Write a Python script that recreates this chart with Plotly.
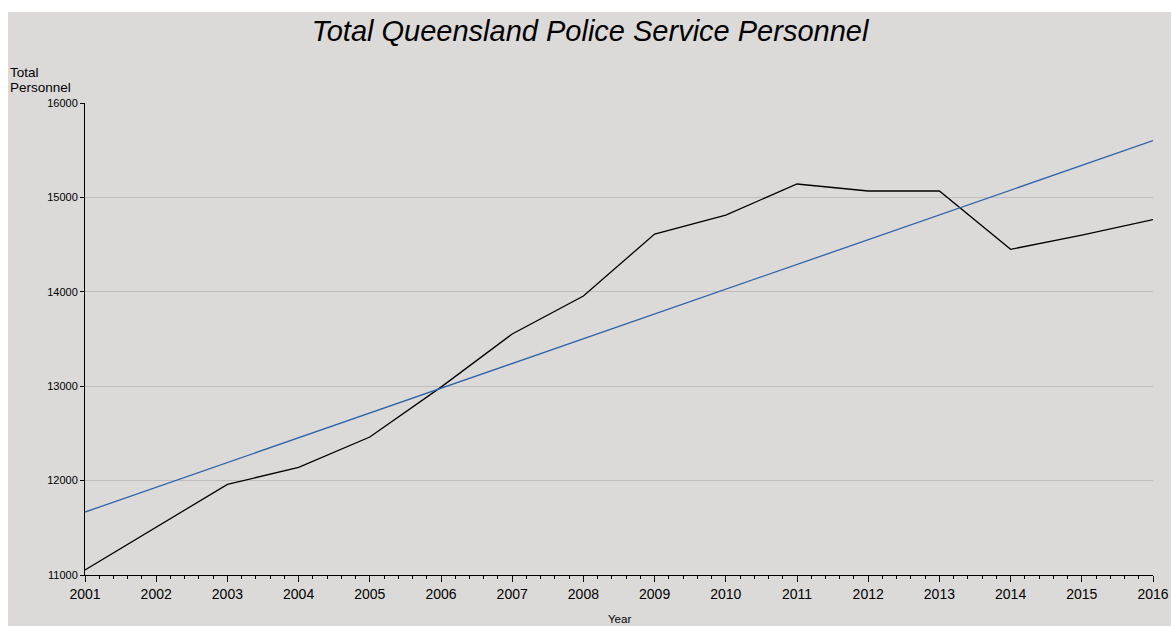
import plotly.graph_objects as go

years = list(range(2001, 2017))
personnel = [11053, 11508, 11960, 12140, 12462, 12990, 13553, 13955,
             14612, 14813, 15142, 15068, 15068, 14450, 14600, 14764]
trend_years = [2001, 2016]
trend_values = [11667, 15601]
y_ticks = [11000, 12000, 13000, 14000, 15000, 16000]

bg = "#dcdad9"
font = "Liberation Sans, Arial, sans-serif"

W, H = 1163, 618
ML, MR, MT, MB = 77, 18, 95, 51
PW = W - ML - MR
PH = H - MT - MB


def px_x(x):
    return (x - ML) / PW


def px_y(y):
    return (H - MB - y) / PH


fig = go.Figure()
fig.add_trace(go.Scatter(x=years, y=personnel, mode="lines",
                         line=dict(color="#000000", width=1.3), showlegend=False))
fig.add_trace(go.Scatter(x=trend_years, y=trend_values, mode="lines",
                         line=dict(color="#2d62a8", width=1.3), showlegend=False))

fig.update_layout(
    width=W, height=H,
    paper_bgcolor=bg, plot_bgcolor=bg,
    margin=dict(l=ML, r=MR, t=MT, b=MB, autoexpand=False),
    font=dict(family=font, color="#000000"),
    title=dict(text="<i>Total Queensland Police Service Personnel</i>",
               x=px_x(582), xanchor="center", xref="paper", y=1 - 23 / H, yanchor="middle",
               font=dict(size=29, family=font)),
    xaxis=dict(range=[2001, 2016], tickvals=years, ticktext=[str(y) for y in years],
               automargin=False,
               showgrid=False, zeroline=False, showline=True, linecolor="#000000",
               linewidth=1, ticks="outside", ticklen=6, tickcolor="#000000",
               tickfont=dict(size=14),
               minor=dict(dtick=0.2, tick0=2001, ticks="outside", ticklen=3,
                          tickcolor="#000000", showgrid=False)),
    yaxis=dict(range=[11000, 16000], tickvals=y_ticks, ticktext=[str(v) for v in y_ticks],
               automargin=False,
               showgrid=True, gridcolor="#bfbebd", gridwidth=1, zeroline=False,
               showline=True, linecolor="#000000", linewidth=1,
               ticks="outside", ticklen=4, tickcolor="#000000",
               tickfont=dict(size=11)),
    annotations=[
        dict(text="Total", x=px_x(0), y=px_y(64), xref="paper", yref="paper",
             showarrow=False, align="left", xanchor="left", yanchor="middle",
             font=dict(size=13.5)),
        dict(text="Personnel", x=px_x(0), y=px_y(79.5), xref="paper", yref="paper",
             showarrow=False, align="left", xanchor="left", yanchor="middle",
             font=dict(size=13.5)),
        dict(text="Year", x=0.5, y=px_y(611), xref="paper", yref="paper",
             showarrow=False, xanchor="center", yanchor="middle",
             font=dict(size=11.5)),
    ],
    shapes=[
        dict(type="rect", xref="paper", yref="paper",
             x0=px_x(-2), x1=px_x(W + 2), y0=px_y(4), y1=px_y(-2),
             fillcolor="#ffffff", line=dict(width=0), layer="below"),
    ],
)

fig.write_html(
    "out.html",
    post_script=(
        "document.body.style.margin='8px 0 0 8px';"
        "document.body.style.overflow='hidden';"
        "document.documentElement.style.overflow='hidden';"
    ),
)
